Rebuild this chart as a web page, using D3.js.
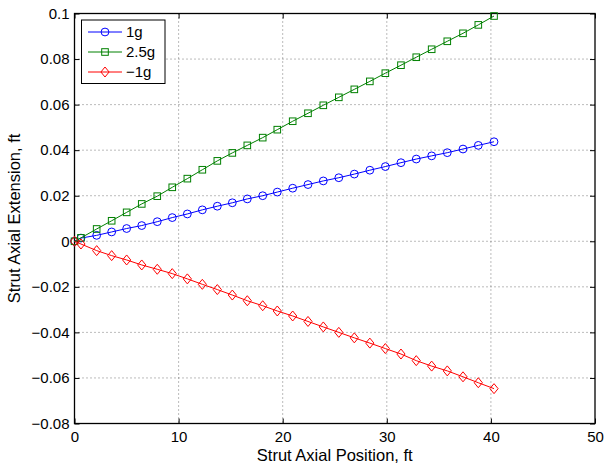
<!DOCTYPE html>
<html>
<head>
<meta charset="utf-8">
<script src="https://d3js.org/d3.v7.min.js"></script>
<style>
  html, body { margin: 0; padding: 0; background: #fff; }
  svg { display: block; font-family: "Liberation Sans", Arial, Helvetica, sans-serif; }
</style>
</head>
<body>
<svg id="chart" width="605" height="466"></svg>
<script>
// ---- data ----
const xPos = [0, 0.62, 2.13, 3.57, 5.01, 6.46, 7.95, 9.39, 10.84, 12.28, 13.72, 15.16, 16.60, 18.08, 19.48,
  20.96, 22.43, 23.90, 25.39, 26.88, 28.37, 29.86, 31.36, 32.83, 34.31, 35.81, 37.32, 38.79, 40.30];
const ext1g = [0, 0.0014, 0.0026, 0.0041, 0.0056, 0.0069, 0.0086, 0.0104, 0.0120, 0.0138, 0.0154, 0.0169,
  0.0186, 0.0200, 0.0216, 0.0233, 0.0249, 0.0265, 0.0279, 0.0295, 0.0312, 0.0328, 0.0345, 0.0361, 0.0375,
  0.0389, 0.0405, 0.0421, 0.0437];
const ext25g = [0, 0.0015, 0.0054, 0.0090, 0.0127, 0.0164, 0.0198, 0.0237, 0.0275, 0.0314, 0.0353, 0.0388,
  0.0421, 0.0455, 0.0490, 0.0527, 0.0562, 0.0597, 0.0632, 0.0667, 0.0702, 0.0738, 0.0773, 0.0808, 0.0843,
  0.0878, 0.0913, 0.0950, 0.0989];
const extNeg1g = [0, -0.0012, -0.0041, -0.0063, -0.0082, -0.0104, -0.0123, -0.0142, -0.0165, -0.0189, -0.0212,
  -0.0236, -0.0261, -0.0283, -0.0306, -0.0328, -0.0352, -0.0376, -0.0400, -0.0424, -0.0447, -0.0471, -0.0495,
  -0.0524, -0.0548, -0.0569, -0.0595, -0.0621, -0.0647];
const seriesNames = ["1g", "2.5g", "\u22121g"];
const xTicks = [0, 10, 20, 30, 40, 50];
const yTicks = [-0.08, -0.06, -0.04, -0.02, 0, 0.02, 0.04, 0.06, 0.08, 0.1];
const xLabel = "Strut Axial Position, ft";
const yLabel = "Strut Axial Extension, ft";

// ---- layout ----
const svg = d3.select("#chart");
const L = 74.5, R = 595, T = 13.5, B = 423.5;
const x = d3.scaleLinear().domain([0, 50]).range([L, R]);
const y = d3.scaleLinear().domain([-0.08, 0.1]).range([B, T]);

const fmtY = v => {
  if (Math.abs(v) < 1e-12) return "0";
  let s = String(+v.toFixed(2));
  return s.replace("-", "\u2212");
};

svg.append("rect").attr("width", 605).attr("height", 466).attr("fill", "#fff");

// grid
const grid = svg.append("g").attr("stroke", "#555").attr("stroke-width", 0.8)
  .attr("stroke-dasharray", "1,3");
xTicks.filter(v => v > 0 && v < 50).forEach(v => {
  grid.append("line").attr("x1", x(v)).attr("x2", x(v)).attr("y1", T).attr("y2", B);
});
yTicks.filter(v => v > -0.08 && v < 0.1).forEach(v => {
  grid.append("line").attr("x1", L).attr("x2", R).attr("y1", y(v)).attr("y2", y(v));
});

// axes via d3 axes (inward ticks)
const tickLen = 5;
const axB = svg.append("g").attr("transform", `translate(0,${B})`)
  .call(d3.axisBottom(x).tickValues(xTicks).tickSizeInner(-tickLen).tickSizeOuter(0).tickPadding(7.5));
const axT = svg.append("g").attr("transform", `translate(0,${T})`)
  .call(d3.axisTop(x).tickValues(xTicks).tickSizeInner(-tickLen).tickSizeOuter(0).tickFormat(""));
const axLft = svg.append("g").attr("transform", `translate(${L},0)`)
  .call(d3.axisLeft(y).tickValues(yTicks).tickSizeInner(-tickLen).tickSizeOuter(0).tickPadding(5).tickFormat(fmtY));
const axRt = svg.append("g").attr("transform", `translate(${R},0)`)
  .call(d3.axisRight(y).tickValues(yTicks).tickSizeInner(-tickLen).tickSizeOuter(0).tickFormat(""));
[axB, axT, axLft, axRt].forEach(a => {
  a.select(".domain").remove();
  a.selectAll("line").attr("stroke", "#000").attr("stroke-width", 1);
  a.selectAll("text").attr("fill", "#000").attr("font-size", 15)
    .attr("font-family", "'Liberation Sans', Arial, sans-serif");
});
axB.selectAll("text").attr("dy", "0.71em");

// box
svg.append("rect").attr("x", L).attr("y", T).attr("width", R - L).attr("height", B - T)
  .attr("fill", "none").attr("stroke", "#000").attr("stroke-width", 1.3);

// axis labels
svg.append("text").attr("x", (L + R) / 2).attr("y", 461).attr("text-anchor", "middle")
  .attr("font-size", 16.5).text(xLabel);
svg.append("text").attr("transform", `translate(20,${(T + B) / 2}) rotate(-90)`)
  .attr("text-anchor", "middle").attr("font-size", 16.5).text(yLabel);

// series
const colors = ["#0000ff", "#008000", "#ff0000"];
const seriesVals = [ext1g, ext25g, extNeg1g];
const markerTypes = ["circle", "square", "diamond"];

function drawMarker(g, type, cx, cy, color) {
  if (type === "circle") {
    g.append("circle").attr("cx", cx).attr("cy", cy).attr("r", 3.9)
      .attr("fill", "none").attr("stroke", color).attr("stroke-width", 1);
  } else if (type === "square") {
    const s = 6.6;
    g.append("rect").attr("x", cx - s / 2).attr("y", cy - s / 2).attr("width", s).attr("height", s)
      .attr("fill", "none").attr("stroke", color).attr("stroke-width", 1);
  } else {
    const w = 4.1, h = 5;
    g.append("path").attr("d", `M${cx},${cy - h}L${cx + w},${cy}L${cx},${cy + h}L${cx - w},${cy}Z`)
      .attr("fill", "none").attr("stroke", color).attr("stroke-width", 1);
  }
}

const line = d3.line().x(d => x(d[0])).y(d => y(d[1]));
const plot = svg.append("g");
seriesVals.forEach((vals, i) => {
  const pts = xPos.map((xv, j) => [xv, vals[j]]);
  const g = plot.append("g");
  g.append("path").attr("d", line(pts)).attr("fill", "none")
    .attr("stroke", colors[i]).attr("stroke-width", 1);
  pts.forEach(p => drawMarker(g, markerTypes[i], x(p[0]), y(p[1]), colors[i]));
});

// legend
const lg = svg.append("g");
lg.append("rect").attr("x", 81.5).attr("y", 20).attr("width", 83.5).attr("height", 63.5)
  .attr("fill", "#fff").attr("stroke", "#000").attr("stroke-width", 1);
seriesNames.forEach((name, i) => {
  const ly = 32 + i * 20;
  lg.append("line").attr("x1", 88).attr("x2", 122).attr("y1", ly).attr("y2", ly)
    .attr("stroke", colors[i]).attr("stroke-width", 1);
  drawMarker(lg, markerTypes[i], 105, ly, colors[i]);
  lg.append("text").attr("x", 126).attr("y", ly).attr("dy", "0.36em")
    .attr("font-size", 15).text(name);
});
</script>
</body>
</html>
